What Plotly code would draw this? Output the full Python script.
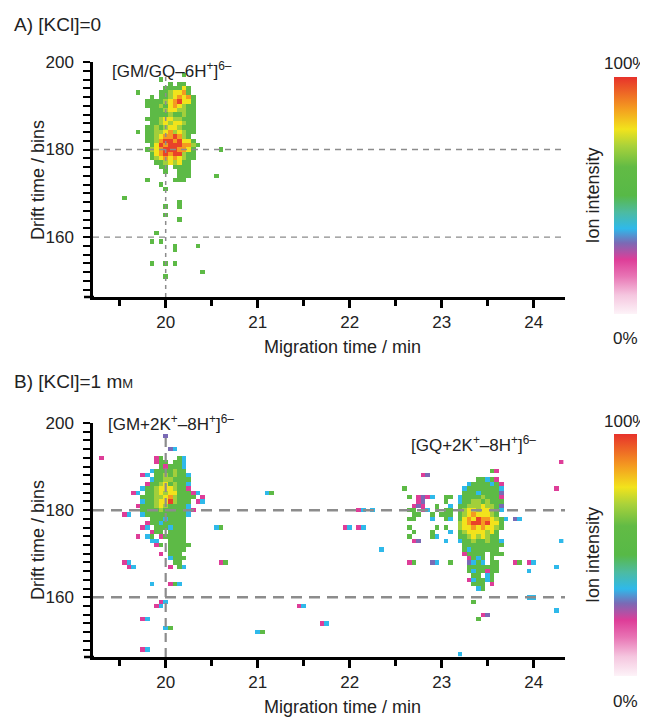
import plotly.graph_objects as go

# ---------------- data ----------------
# intensity code per cell: p pink, m magenta, b blue, c cyan, t teal, g green,
# l lime, y yellow, o orange, r red ; '.' = no signal
LEVELS = {'p': 0.16, 'm': 0.23, 'b': 0.30, 'c': 0.36, 't': 0.43,
          'g': 0.56, 'l': 0.70, 'y': 0.78, 'o': 0.87, 'r': 0.98}

x_ticks = [20, 21, 22, 23, 24]
y_ticks = [160, 180, 200]

# Panel A: main cluster, first column at 19.75 min, first row at 195 bins
a_cluster_x0 = 19.75
a_cluster_y0 = 195
a_cluster_rows = [
    "......g.gg...",
    ".....ggggyg..",
    "....gglyyog..",
    "..g.gglyoyog.",
    ".gggglyoryyg.",
    ".ggglgyoylgg.",
    "..ggglyyllgg.",
    "..gggglgglgg.",
    ".ggglyyllggg.",
    "..gglylyylgg.",
    ".gglglyylggg.",
    ".ggllyolylgg.",
    ".gglyoorolg..",
    ".gglorroryyg.",
    "..gyrorrroolg",
    ".glyorrrooyg.",
    "..gyororrlgg.",
    "..glyoyoylgg.",
    "...gglylygg..",
    "....gg.gggg..",
    ".....g..ggg..",
    "........ggg..",
    ".g.....ggg...",
]
a_strays = [
    (20.20, 197, "g"), (19.95, 196, "g"), (19.70, 193, "g"), (19.70, 184, "g"),
    (20.60, 180, "g"), (20.55, 174, "g"), (19.95, 172, "g"), (20.00, 171, "g"),
    (19.55, 169, "g"), (20.15, 168, "g"), (20.00, 167, "g"), (20.15, 167, "g"),
    (20.00, 165, "g"), (20.15, 164, "g"), (19.90, 161, "g"), (19.85, 159, "g"),
    (19.95, 159, "g"), (20.10, 158, "g"), (20.35, 158, "g"), (20.10, 157, "g"),
    (19.85, 154, "g"), (20.00, 154, "g"), (20.10, 154, "g"), (20.40, 152, "g"),
    (20.00, 151, "g"),
]

# Panel B: GM cluster (first column 19.55 min, first row 194 bins)
b_left_x0 = 19.55
b_left_y0 = 194
b_left_rows = [
    "..........bc......",
    "..................",
    ".......mg...gc....",
    ".......mgg.ggc....",
    "........gmgggc....",
    "......cgggglgg....",
    "....mc.gglglggc...",
    "......cggllgggg...",
    ".....mgglyglggc...",
    "....cgglyyylggm...",
    "..mc.gglylyygggmc.",
    "....gggllyolgggg..",
    "....cgglyyrlggg.mc",
    "...mggglylggggc...",
    "....gggglgggggcm..",
    "mc..cgggggggggc...",
    "......gggcgggg....",
    ".....mggcggggg....",
    "....mc.gggcggg....",
    "......mgg.gggg....",
    "...m.cg.mggggg....",
    "......cc..gggg....",
    ".......mg.ggggg...",
    "..........gggg....",
    "........m.ggg.....",
    "..........cggg....",
    "mc.........gg.....",
    ".mc.......m.gc....",
]
# Panel B: GQ cluster core (first column 23.15 min, first row 189 bins)
b_right_x0 = 23.15
b_right_y0 = 189
b_right_rows = [
    "........gm..",
    "............",
    ".....ggcgm..",
    "...cggggcgm.",
    "..cgggggggc.",
    "..gggcggggb.",
    ".cgggglgggm.",
    ".cggllglggg.",
    ".gglllyllgb.",
    ".glyylyylgc.",
    ".glyoyyylg..",
    ".gyoyrooylgc",
    ".lyorroryyg.",
    ".lyyoyoyylg.",
    ".glyyyylyg..",
    ".gglylylgg..",
    ".cgglgglggc.",
    "..ggggggggg.",
    "..gcgggggg..",
    "..mgggg.ggg.",
    "...mgcg.g...",
    "...bcgc.gg..",
    "...ggggggg..",
    "...gcggmgg..",
    "....gg.cg...",
    "...mcggcg...",
    "....ggg.m...",
    ".....cg.....",
]
# Panel B: scattered cells left of the GQ cluster (first column 22.55 min, first row 188 bins)
b_side_x0 = 22.55
b_side_y0 = 188
b_side_rows = [
    ".....mb.....",
    "............",
    "............",
    ".g..........",
    "............",
    "..g.mbmc..gg",
    "....mb....g.",
    "...mbm..g..c",
    "..gg.mc.g.gg",
    "...gg..g.ggg",
    "..gg...c..gc",
    "............",
    "..g.....g.g.",
    "...g...g...c",
    "..g....gc...",
    "...mb.....c.",
    "............",
    "............",
    "............",
    "............",
    "..mg...bc..g",
]
b_strays = [
    (20.00, 197, "b"), (19.30, 192, "m"), (20.40, 183, "m"), (20.55, 176, "cg"),
    (20.60, 168, "mg"), (21.10, 184, "cg"), (19.85, 163, "c"), (20.05, 163, "mgc"),
    (19.90, 158, "mc"), (19.95, 159, "mc"), (19.75, 155, "mc"), (20.00, 153, "cg"),
    (19.75, 148, "mc"), (21.00, 152, "cg"), (21.45, 158, "mc"), (21.70, 154, "mc"),
    (21.95, 176, "mc"), (22.10, 176, "mc"), (22.10, 180, "mc.c"), (22.35, 171, "c"),
    (23.80, 178, "bc"), (23.80, 168, "mg.mc"), (23.95, 166, "c"), (24.25, 167, "c"),
    (23.95, 160, "cc"), (24.25, 157, "c"), (24.25, 185, "m"), (24.30, 173, "c"),
    (24.30, 191, "m"), (23.35, 159, "g"), (23.45, 156, "mb"), (23.40, 155, "g"),
    (23.20, 147, "c"),
]

# ---------------- grid helpers ----------------
X_START, X_STEP, N_X = 19.25, 0.05, 102
Y_START, N_Y = 147, 53
xs = [round(X_START + i * X_STEP, 3) for i in range(N_X)]
ys = [Y_START + i for i in range(N_Y)]


def empty():
    return [[None] * N_X for _ in range(N_Y)]


def put(z, x, y, ch):
    if ch not in LEVELS:
        return
    xi = int(round((x - X_START) / X_STEP))
    yi = int(round(y - Y_START))
    if 0 <= xi < N_X and 0 <= yi < N_Y:
        z[yi][xi] = LEVELS[ch]


def fill(z, x0, y0, rows):
    for i, row in enumerate(rows):
        for j, ch in enumerate(row):
            put(z, x0 + j * X_STEP, y0 - i, ch)


def strays(z, pts):
    for x, y, s in pts:
        for j, ch in enumerate(s):
            put(z, x + j * X_STEP, y, ch)


zA = empty()
fill(zA, a_cluster_x0, a_cluster_y0, a_cluster_rows)
strays(zA, a_strays)

zB = empty()
fill(zB, b_left_x0, b_left_y0, b_left_rows)
fill(zB, b_right_x0, b_right_y0, b_right_rows)
fill(zB, b_side_x0, b_side_y0, b_side_rows)
strays(zB, b_strays)

CS = [
    [0.0, '#fdf3f8'], [0.08, '#f5c6df'], [0.16, '#e874b4'], [0.23, '#de3d98'],
    [0.30, '#7a6ab5'], [0.36, '#2fb9ea'], [0.43, '#4dbba0'], [0.50, '#57b947'],
    [0.62, '#62bb45'], [0.71, '#aad23a'], [0.78, '#f2e31c'], [0.87, '#f49a20'],
    [1.0, '#e7322b'],
]

# The page body has an 8px margin, so the figure is drawn 8px in from the window edge.
PAGE_OFF = 8
W, H = 648 - PAGE_OFF, 717 - PAGE_OFF


def px(v):
    return (v - PAGE_OFF) / W


def py(v):
    return 1 - (v - PAGE_OFF) / H


fig = go.Figure()
fig.add_trace(go.Heatmap(x=xs, y=ys, z=zA, coloraxis='coloraxis', xaxis='x', yaxis='y',
                         hoverongaps=False))
fig.add_trace(go.Heatmap(x=xs, y=ys, z=zB, coloraxis='coloraxis2', xaxis='x2', yaxis='y2',
                         hoverongaps=False))

XR = [19.21, 24.34]
YR = [146.3, 200]
tickfont = dict(family='Liberation Sans, Arial', size=17, color='#222')


def xaxis(dom_anchor):
    return dict(range=XR, domain=[px(93), px(565)], anchor=dom_anchor, automargin=False,
                showline=True, linecolor='black', linewidth=2.5, mirror=False,
                ticks='outside', tickvals=x_ticks, ticklen=8, tickwidth=3, tickcolor='black',
                showgrid=False, zeroline=False, tickfont=tickfont,
                minor=dict(ticks='outside', tickvals=[19.5, 20.5, 21.5, 22.5, 23.5],
                           ticklen=6, tickwidth=2.5, tickcolor='black', showgrid=False))


def yaxis(dom, anchor):
    return dict(range=YR, domain=dom, anchor=anchor, automargin=False,
                showline=True, linecolor='black', linewidth=2.5,
                ticks='outside', tickvals=y_ticks, ticklen=7, tickwidth=2, tickcolor='black',
                showgrid=False, zeroline=False, tickfont=tickfont, ticklabelstandoff=6,
                minor=dict(ticks='outside', tickvals=list(range(148, 200, 2)),
                           ticklen=7, tickwidth=2, tickcolor='black', showgrid=False))


def cbar(top, bottom):
    return dict(x=px(614), xanchor='left', thickness=23, thicknessmode='pixels',
                len=bottom - top, lenmode='pixels', y=py((top + bottom) / 2), yanchor='middle',
                xpad=0, ypad=0, outlinewidth=0, showticklabels=False, ticks='')


fig.update_layout(
    width=W, height=H, margin=dict(l=0, r=0, t=0, b=0, autoexpand=False),
    paper_bgcolor='white', plot_bgcolor='white', showlegend=False,
    font=dict(family='Liberation Sans, Arial', color='#222'),
    xaxis=xaxis('y'), yaxis=yaxis([py(297), py(62)], 'x'),
    xaxis2=xaxis('y2'), yaxis2=yaxis([py(657), py(423)], 'x2'),
    coloraxis=dict(colorscale=CS, cmin=0, cmax=1, colorbar=cbar(77, 314)),
    coloraxis2=dict(colorscale=CS, cmin=0, cmax=1, colorbar=cbar(434, 676)),
)

# dashed guide lines
shapes = []
for xa, ya, hdash, hw, vdash, vw in [('x', 'y', '6px,5px', 1.3, '4px,4px', 1.5),
                                      ('x2', 'y2', '11px,7px', 2.5, '9px,6px', 2.2)]:
    for yv in (180, 160):
        shapes.append(dict(type='line', xref=xa, yref=ya, x0=XR[0], x1=XR[1], y0=yv, y1=yv,
                           line=dict(color='#8c8c8c', width=hw, dash=hdash)))
    shapes.append(dict(type='line', xref=xa, yref=ya, x0=20, x1=20, y0=YR[0], y1=197,
                       line=dict(color='#8c8c8c', width=vw, dash=vdash)))
for yy in (297, 657):
    shapes.append(dict(type='line', xref='paper', yref='paper', x0=px(84), x1=px(94),
                       y0=py(yy), y1=py(yy), line=dict(color='black', width=2.5)))
fig.update_layout(shapes=shapes)

ann = []


def text(x, y, s, size=18, xanchor='center', angle=0):
    ann.append(dict(x=px(x), y=py(y), xref='paper', yref='paper', text=s, showarrow=False,
                    xanchor=xanchor, yanchor='middle', textangle=angle,
                    font=dict(size=size, color='#222')))


text(12, 25, "A) [KCl]=0", 19, 'left')
text(12, 382, "B) [KCl]=1 m<span style='font-size:13px'>M</span>", 19, 'left')
text(110, 70, "[GM/GQ–6H<sup>+</sup>]<sup>6–</sup>", 17, 'left')
text(106, 423, "[GM+2K<sup>+</sup>–8H<sup>+</sup>]<sup>6–</sup>", 17, 'left')
text(409, 444, "[GQ+2K<sup>+</sup>–8H<sup>+</sup>]<sup>6–</sup>", 17, 'left')
for ytop, ybot, ymid in [(62, 297, 180), (423, 657, 540)]:
    text(38, ymid, "Drift time / bins", 18, 'center', -90)
for yax in (297, 657):
    text(342, yax + 50, "Migration time / min", 18)
for top, bottom in [(77, 314), (434, 676)]:
    text(625.5, top - 13, "100%", 17)
    text(625.5, bottom + 25, "0%", 17)
    text(593, (top + bottom) / 2, "Ion intensity", 18, 'center', -90)
fig.update_layout(annotations=ann)

fig.write_html("out.html")
